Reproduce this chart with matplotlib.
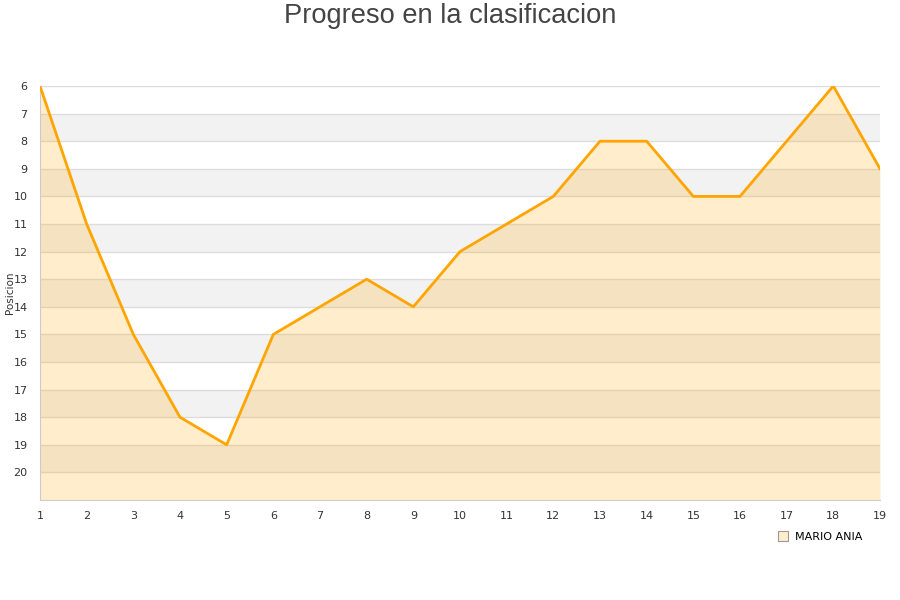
import matplotlib
matplotlib.use("Agg")
import matplotlib.pyplot as plt
from matplotlib.lines import Line2D

jornadas = list(range(1, 20))
posiciones = [6, 11, 15, 18, 19, 15, 14, 13, 14, 12, 11, 10, 8, 8, 10, 10, 8, 6, 9]
serie = "MARIO ANIA"
titulo = "Progreso en la clasificacion"
ylabel = "Posicion"

fig = plt.figure(figsize=(9, 6), dpi=100)
ax = fig.add_axes([40/900, 1-500/600, 840/900, 414/600])

ymin, ymax = 6, 21
for y in range(7, 20, 2):
    ax.axhspan(y, y+1, color="#F2F2F2", zorder=0, lw=0)
for y in range(ymin, ymax):
    ax.axhline(y, color="#DDDDDD", lw=1, zorder=1)

ax.fill_between(jornadas, posiciones, ymax, color="#FFA500", alpha=0.2, lw=0, zorder=2)
ax.plot(jornadas, posiciones, color="#FFA500", lw=2, zorder=3)

ax.set_xlim(1, 19)
ax.set_ylim(ymax, ymin)
ax.set_xticks(jornadas)
ax.set_yticks(range(6, 21))
ax.tick_params(axis="both", length=0, labelsize=8, labelcolor="#333333")
ax.tick_params(axis="x", pad=8)
ax.tick_params(axis="y", pad=9)
for s in ["top", "right"]:
    ax.spines[s].set_visible(False)
for s in ["left", "bottom"]:
    ax.spines[s].set_color("#CCCCCC")

fig.text(10/900, 1-293/600, ylabel, rotation=90, ha="center", va="center",
         fontsize=7.5, color="#333333")

fig.text(0.5, 1-16/600, titulo, ha="center", va="center", fontsize=19.6,
         color="#444444", family="Liberation Sans")

handle = Line2D([], [], marker="s", linestyle="none", markersize=7,
                markerfacecolor="#FFEDCC", markeredgecolor="#999999", markeredgewidth=0.8)
fig.legend([handle], [serie], loc="center left", bbox_to_anchor=(772/900, 1-537/600),
           frameon=False, fontsize=8, handletextpad=0.6, borderpad=0, handlelength=1)

fig.savefig("out.png", dpi=100)
